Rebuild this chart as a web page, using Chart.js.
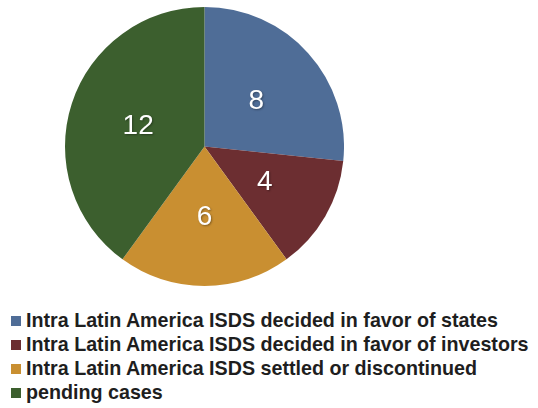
<!DOCTYPE html>
<html lang="en">
<head>
  <meta charset="UTF-8" />
  <title>Intra Latin America ISDS cases</title>
  <script src="https://cdn.jsdelivr.net/npm/chart.js"></script>
  <style>
    body {
      margin: 0;
      background: #fff;
      width: 538px;
      height: 408px;
      position: relative;
      overflow: hidden;
      font-family: "Liberation Sans", Arial, sans-serif;
    }
    #pie {
      position: absolute;
      left: 65px;
      top: 7px;
    }
    .legend {
      position: absolute;
      left: 11px;
      top: 308px;
      margin: 0;
      padding: 0;
      list-style: none;
    }
    .legend li {
      height: 24px;
      line-height: 24px;
      font-size: 19.7px;
      font-weight: bold;
      color: #1e1e1e;
      white-space: nowrap;
    }
    .legend span {
      display: inline-block;
      width: 10px;
      height: 10px;
      margin-right: 5px;
      vertical-align: 1px;
    }
  </style>
</head>
<body>
  <canvas id="pie" width="279" height="279"></canvas>
  <ul class="legend" id="legend"></ul>

  <script>
    const labels = [
      "Intra Latin America ISDS decided in favor of states",
      "Intra Latin America ISDS decided in favor of investors",
      "Intra Latin America ISDS settled or discontinued",
      "pending cases"
    ];
    const cases = [8, 4, 6, 12];
    const colors = ["#4f6d97", "#6c2e31", "#c98f31", "#3c5f2e"];

    // white numbers in the middle of each slice
    const sliceValues = {
      id: "sliceValues",
      afterDatasetsDraw(chart) {
        const ctx = chart.ctx;
        const meta = chart.getDatasetMeta(0);
        ctx.save();
        ctx.font = "28px 'Liberation Sans', Arial, sans-serif";
        ctx.fillStyle = "#fff";
        ctx.textAlign = "center";
        ctx.textBaseline = "middle";
        ctx.shadowColor = "rgba(0,0,0,0.35)";
        ctx.shadowBlur = 2;
        ctx.shadowOffsetX = 1;
        ctx.shadowOffsetY = 1;
        meta.data.forEach((arc, i) => {
          const p = arc.getCenterPoint();
          ctx.fillText(String(chart.data.datasets[0].data[i]), p.x, p.y + 1);
        });
        ctx.restore();
      }
    };

    new Chart(document.getElementById("pie"), {
      type: "pie",
      data: {
        labels,
        datasets: [{
          data: cases,
          backgroundColor: colors,
          borderWidth: 0
        }]
      },
      options: {
        responsive: false,
        animation: false,
        layout: { padding: 0 },
        plugins: {
          legend: { display: false },
          tooltip: { enabled: false }
        }
      },
      plugins: [sliceValues]
    });

    const legend = document.getElementById("legend");
    labels.forEach((text, i) => {
      const li = document.createElement("li");
      const box = document.createElement("span");
      box.style.background = colors[i];
      li.appendChild(box);
      li.appendChild(document.createTextNode(text));
      legend.appendChild(li);
    });
  </script>
</body>
</html>
